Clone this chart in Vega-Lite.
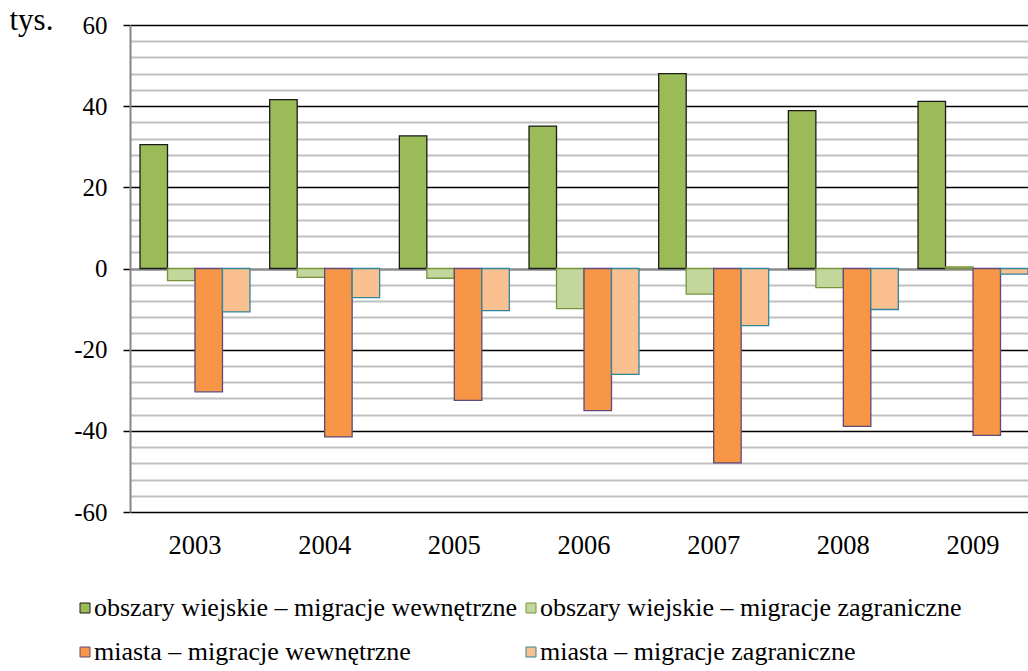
{
  "$schema": "https://vega.github.io/schema/vega-lite/v6.json",
  "width": 898,
  "height": 487,
  "autosize": {"type": "none"},
  "padding": {"left": 130, "top": 25, "right": 0, "bottom": 159},
  "background": "white",
  "config": {
    "font": "'Liberation Serif', 'Times New Roman', serif",
    "axis": {"labelFont": "'Liberation Serif', 'Times New Roman', serif", "titleFont": "'Liberation Serif', 'Times New Roman', serif"},
    "legend": {"labelFont": "'Liberation Serif', 'Times New Roman', serif", "titleFont": "'Liberation Serif', 'Times New Roman', serif"},
    "view": {"stroke": null}
  },
  "data": {
    "values": [
      {"rok": "2003", "seria": "obszary wiejskie – migracje wewnętrzne", "wartosc": 30.5},
      {"rok": "2003", "seria": "obszary wiejskie – migracje zagraniczne", "wartosc": -3.0},
      {"rok": "2003", "seria": "miasta – migracje wewnętrzne", "wartosc": -30.4},
      {"rok": "2003", "seria": "miasta – migracje zagraniczne", "wartosc": -10.7},
      {"rok": "2004", "seria": "obszary wiejskie – migracje wewnętrzne", "wartosc": 41.6},
      {"rok": "2004", "seria": "obszary wiejskie – migracje zagraniczne", "wartosc": -2.2},
      {"rok": "2004", "seria": "miasta – migracje wewnętrzne", "wartosc": -41.5},
      {"rok": "2004", "seria": "miasta – migracje zagraniczne", "wartosc": -7.2},
      {"rok": "2005", "seria": "obszary wiejskie – migracje wewnętrzne", "wartosc": 32.7},
      {"rok": "2005", "seria": "obszary wiejskie – migracje zagraniczne", "wartosc": -2.4},
      {"rok": "2005", "seria": "miasta – migracje wewnętrzne", "wartosc": -32.5},
      {"rok": "2005", "seria": "miasta – migracje zagraniczne", "wartosc": -10.4},
      {"rok": "2006", "seria": "obszary wiejskie – migracje wewnętrzne", "wartosc": 35.1},
      {"rok": "2006", "seria": "obszary wiejskie – migracje zagraniczne", "wartosc": -9.9},
      {"rok": "2006", "seria": "miasta – migracje wewnętrzne", "wartosc": -35.0},
      {"rok": "2006", "seria": "miasta – migracje zagraniczne", "wartosc": -26.1},
      {"rok": "2007", "seria": "obszary wiejskie – migracje wewnętrzne", "wartosc": 48.0},
      {"rok": "2007", "seria": "obszary wiejskie – migracje zagraniczne", "wartosc": -6.3},
      {"rok": "2007", "seria": "miasta – migracje wewnętrzne", "wartosc": -47.9},
      {"rok": "2007", "seria": "miasta – migracje zagraniczne", "wartosc": -14.1},
      {"rok": "2008", "seria": "obszary wiejskie – migracje wewnętrzne", "wartosc": 38.9},
      {"rok": "2008", "seria": "obszary wiejskie – migracje zagraniczne", "wartosc": -4.7},
      {"rok": "2008", "seria": "miasta – migracje wewnętrzne", "wartosc": -38.9},
      {"rok": "2008", "seria": "miasta – migracje zagraniczne", "wartosc": -10.1},
      {"rok": "2009", "seria": "obszary wiejskie – migracje wewnętrzne", "wartosc": 41.2},
      {"rok": "2009", "seria": "obszary wiejskie – migracje zagraniczne", "wartosc": 0.4},
      {"rok": "2009", "seria": "miasta – migracje wewnętrzne", "wartosc": -41.1},
      {"rok": "2009", "seria": "miasta – migracje zagraniczne", "wartosc": -1.4}
    ]
  },
  "mark": {"type": "bar", "strokeWidth": 1.3},
  "encoding": {
    "x": {
      "field": "rok",
      "type": "nominal",
      "scale": {"paddingInner": 0.152, "paddingOuter": 0.0386, "align": 1},
      "axis": {
        "title": null,
        "labelAngle": 0,
        "domain": false,
        "ticks": false,
        "grid": false,
        "labelFontSize": 26.5,
        "labelColor": "#000000",
        "labelPadding": 20
      }
    },
    "xOffset": {
      "field": "seria",
      "type": "nominal",
      "scale": {
        "domain": [
          "obszary wiejskie – migracje wewnętrzne",
          "obszary wiejskie – migracje zagraniczne",
          "miasta – migracje wewnętrzne",
          "miasta – migracje zagraniczne"
        ],
        "paddingInner": 0,
        "paddingOuter": 0
      }
    },
    "y": {
      "field": "wartosc",
      "type": "quantitative",
      "scale": {"domain": [-60, 60], "nice": false},
      "axis": {
        "values": [-60, -56, -52, -48, -44, -40, -36, -32, -28, -24, -20, -16, -12, -8, -4, 0, 4, 8, 12, 16, 20, 24, 28, 32, 36, 40, 44, 48, 52, 56, 60],
        "labelExpr": "datum.value % 20 === 0 ? '' + datum.value : ''",
        "labelFontSize": 25,
        "labelColor": "#000000",
        "labelPadding": 16,
        "tickSize": 7,
        "tickWidth": 1.5,
        "tickColor": {"condition": {"test": "datum.value % 20 === 0", "value": "#000000"}, "value": "transparent"},
        "domainColor": "#868686",
        "domainWidth": 2,
        "grid": true,
        "gridColor": {"condition": [{"test": "datum.value === 0", "value": "#8c8c8c"}, {"test": "datum.value % 20 === 0", "value": "#000000"}], "value": "#bfbfbf"},
        "gridWidth": {"condition": [{"test": "datum.value === 0", "value": 2.5}, {"test": "datum.value % 20 === 0", "value": 1.5}], "value": 2},
        "title": "tys.",
        "titleAngle": 0,
        "titleAlign": "left",
        "titleBaseline": "alphabetic",
        "titleX": -121,
        "titleY": 4,
        "titleFontSize": 31,
        "titleFontWeight": "normal",
        "titleColor": "#000000"
      }
    },
    "color": {
      "field": "seria",
      "type": "nominal",
      "scale": {
        "domain": [
          "obszary wiejskie – migracje wewnętrzne",
          "obszary wiejskie – migracje zagraniczne",
          "miasta – migracje wewnętrzne",
          "miasta – migracje zagraniczne"
        ],
        "range": ["#9BBB59", "#C3D69B", "#F79646", "#FAC090"]
      },
      "legend": {
        "title": null,
        "orient": "none",
        "direction": "horizontal",
        "legendX": -58,
        "legendY": 570,
        "columns": 2,
        "columnPadding": -9,
        "rowPadding": 18,
        "symbolType": "square",
        "symbolSize": 100,
        "symbolStrokeWidth": 1,
        "labelFontSize": 26,
        "labelColor": "#000000",
        "labelOffset": -4,
        "labelLimit": 700
      }
    },
    "stroke": {
      "field": "seria",
      "type": "nominal",
      "scale": {
        "domain": [
          "obszary wiejskie – migracje wewnętrzne",
          "obszary wiejskie – migracje zagraniczne",
          "miasta – migracje wewnętrzne",
          "miasta – migracje zagraniczne"
        ],
        "range": ["#1a1a1a", "#77933C", "#604A7B", "#31859C"]
      },
      "legend": {
        "title": null,
        "orient": "none",
        "direction": "horizontal",
        "legendX": -58,
        "legendY": 570,
        "columns": 2,
        "columnPadding": -9,
        "rowPadding": 18,
        "symbolType": "square",
        "symbolSize": 100,
        "symbolStrokeWidth": 1,
        "labelFontSize": 26,
        "labelColor": "#000000",
        "labelOffset": -4,
        "labelLimit": 700
      }
    }
  }
}
